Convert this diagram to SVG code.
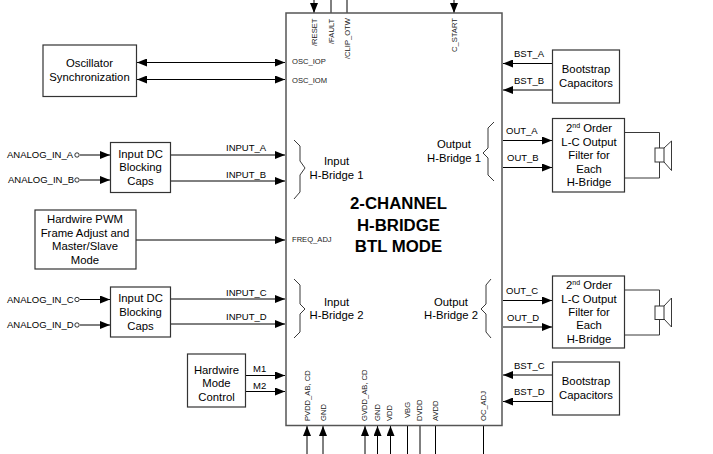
<svg xmlns="http://www.w3.org/2000/svg" width="713" height="454" viewBox="0 0 713 454">
<defs>
<marker id="ah" markerUnits="userSpaceOnUse" markerWidth="10" markerHeight="8" refX="10" refY="4" orient="auto-start-reverse"><path d="M0,0L10,4L0,8Z" fill="#000"/></marker>
</defs>
<style>
text{font-family:"Liberation Sans",Arial,sans-serif;fill:#000}
.box{fill:#fff;stroke:#333;stroke-width:1.2}
.n{font-size:11.300px;text-anchor:middle}
.s{font-size:9.500px}
.p{font-size:7.600px;fill:#222}
.v{font-size:7.600px;fill:#222}
.w{stroke:#000;stroke-width:1;fill:none}
.a{stroke:#000;stroke-width:1;fill:none;marker-end:url(#ah)}
.d{stroke:#000;stroke-width:1;fill:none;marker-start:url(#ah);marker-end:url(#ah)}
.b{stroke:#222;stroke-width:.9;fill:none}
</style>
<g id="connectors">
<path class="d" d="M137 62.500H285"/><path class="d" d="M137 79.500H285"/>
<path class="a" d="M80 155H110"/><path class="a" d="M80 180H110"/>
<path class="a" d="M171 155H285"/><path class="a" d="M171 181H285"/>
<path class="a" d="M136 240H285"/>
<path class="a" d="M80 299.500H110"/><path class="a" d="M80 325H110"/>
<path class="a" d="M171 299H285"/><path class="a" d="M171 324H285"/>
<path class="a" d="M246 375.500H285"/><path class="a" d="M246 391.500H285"/>
<path class="a" d="M314 0V13"/><path class="w" d="M331 0V13"/><path class="w" d="M347 0V13"/><path class="a" d="M454 0V13"/>
<path class="a" d="M307 454V426"/><path class="a" d="M323 454V426"/><path class="a" d="M365 454V426"/><path class="a" d="M377.500 454V426"/><path class="a" d="M390.500 454V426"/>
<path class="w" d="M407.500 454V426"/><path class="w" d="M420 454V426"/><path class="w" d="M435.500 454V426"/><path class="w" d="M483.500 454V426"/>
<path class="a" d="M552 63.500H503"/><path class="a" d="M552 90H503"/>
<path class="a" d="M503 140.500H552"/><path class="a" d="M503 167.500H552"/>
<path class="a" d="M503 300.500H552"/><path class="a" d="M503 327H552"/>
<path class="a" d="M552 375H503"/><path class="a" d="M552 401.500H503"/>
</g>
<g id="main">
<rect x="286" y="13" width="216" height="412.500" fill="#fff" stroke="#555" stroke-width="1.500"/>
<text x="398.500" y="209" text-anchor="middle" font-size="16.800" font-weight="bold">2-CHANNEL</text>
<text x="398.500" y="231" text-anchor="middle" font-size="16.800" font-weight="bold">H-BRIDGE</text>
<text x="398.500" y="252" text-anchor="middle" font-size="16.800" font-weight="bold">BTL MODE</text>
<text class="p" x="292" y="64">OSC_IOP</text><text class="p" x="292" y="83">OSC_IOM</text>
<text class="p" x="292" y="242">FREQ_ADJ</text>
<text class="n" x="336.500" y="165">Input</text><text class="n" x="336.500" y="179">H-Bridge 1</text>
<text class="n" x="336.500" y="306">Input</text><text class="n" x="336.500" y="319">H-Bridge 2</text>
<text class="n" x="454" y="148">Output</text><text class="n" x="454" y="162">H-Bridge 1</text>
<text class="n" x="451" y="306">Output</text><text class="n" x="451" y="319">H-Bridge 2</text>
<path class="b" d="M294 140L300 146V161L305 168L300 175V192L294 199"/>
<path class="b" d="M294 279L300 285V304L305 309L300 314V332L294 338"/>
<path class="b" d="M494 122L488 128V148L483 153L488 158V175L494 181"/>
<path class="b" d="M491 279L486 285V304L481 309L486 314V332L491 338"/>
<text class="v" transform="translate(317,46) rotate(-90)">/RESET</text>
<text class="v" transform="translate(334,44) rotate(-90)">/FAULT</text>
<text class="v" transform="translate(350,59) rotate(-90)">/CLIP_OTW</text>
<text class="v" transform="translate(457,52) rotate(-90)">C_START</text>
<text class="v" transform="translate(309.500,421) rotate(-90)">PVDD_AB, CD</text>
<text class="v" transform="translate(326,421) rotate(-90)">GND</text>
<text class="v" transform="translate(367,421) rotate(-90)">GVDD_AB, CD</text>
<text class="v" transform="translate(380,421) rotate(-90)">GND</text>
<text class="v" transform="translate(391.500,421) rotate(-90)">VDD</text>
<text class="v" transform="translate(409.500,418) rotate(-90)">VBG</text>
<text class="v" transform="translate(421.500,421) rotate(-90)">DVDD</text>
<text class="v" transform="translate(437.500,421) rotate(-90)">AVDD</text>
<text class="v" transform="translate(486,421) rotate(-90)">OC_ADJ</text>
</g>
<g id="osc"><rect class="box" x="43" y="45" width="93.500" height="51.500"/><text class="n" x="89.500" y="67">Oscillator</text><text class="n" x="89.500" y="81">Synchronization</text></g>
<g id="in-a"><text class="s" x="7" y="158">ANALOG_IN_A</text><circle cx="77" cy="155" r="2.200" fill="#fff" stroke="#000" stroke-width=".8"/></g>
<g id="in-b"><text class="s" x="8" y="183">ANALOG_IN_B</text><circle cx="77" cy="180" r="2.200" fill="#fff" stroke="#000" stroke-width=".8"/></g>
<g id="in-c"><text class="s" x="7" y="302.500">ANALOG_IN_C</text><circle cx="77" cy="299.500" r="2.200" fill="#fff" stroke="#000" stroke-width=".8"/></g>
<g id="in-d"><text class="s" x="7" y="328">ANALOG_IN_D</text><circle cx="77" cy="325" r="2.200" fill="#fff" stroke="#000" stroke-width=".8"/></g>
<g id="dc1"><rect class="box" x="110.500" y="142.500" width="60" height="50"/><text class="n" x="140.500" y="158">Input DC</text><text class="n" x="140.500" y="171">Blocking</text><text class="n" x="140.500" y="185">Caps</text></g>
<g id="dc2"><rect class="box" x="110.500" y="287" width="60" height="50"/><text class="n" x="140.500" y="302">Input DC</text><text class="n" x="140.500" y="316">Blocking</text><text class="n" x="140.500" y="330">Caps</text></g>
<g id="pwm"><rect class="box" x="35" y="210" width="101" height="59"/><text class="n" x="85" y="223">Hardwire PWM</text><text class="n" x="85" y="237">Frame Adjust and</text><text class="n" x="85" y="250">Master/Slave</text><text class="n" x="85" y="264">Mode</text></g>
<g id="mode"><rect class="box" x="187.500" y="354" width="58" height="53"/><text class="n" x="216.500" y="374">Hardwire</text><text class="n" x="216.500" y="387">Mode</text><text class="n" x="216.500" y="401">Control</text></g>
<g id="boot1"><rect class="box" x="552.500" y="50" width="67" height="53"/><text class="n" x="586" y="73">Bootstrap</text><text class="n" x="586" y="87">Capacitors</text></g>
<g id="boot2"><rect class="box" x="552.500" y="362" width="67" height="53"/><text class="n" x="586" y="385">Bootstrap</text><text class="n" x="586" y="399">Capacitors</text></g>
<g id="filter1"><rect class="box" x="552.500" y="118.500" width="72" height="73.500"/><text class="n" x="589" y="132">2<tspan font-size="7" dy="-4">nd</tspan><tspan dy="4"> Order</tspan></text><text class="n" x="589" y="145.500">L-C Output</text><text class="n" x="589" y="159">Filter for</text><text class="n" x="589" y="173">Each</text><text class="n" x="589" y="186">H-Bridge</text></g>
<g id="filter2"><rect class="box" x="552.500" y="276" width="72" height="72"/><text class="n" x="589" y="289">2<tspan font-size="7" dy="-4">nd</tspan><tspan dy="4"> Order</tspan></text><text class="n" x="589" y="302.500">L-C Output</text><text class="n" x="589" y="316">Filter for</text><text class="n" x="589" y="329">Each</text><text class="n" x="589" y="343">H-Bridge</text></g>
<g id="spk1"><path class="b" d="M625 132.500H659.500V148M625 178H659.500V162"/><rect x="655" y="148" width="9" height="14" fill="#fff" stroke="#333"/><path class="b" d="M664 148L671.500 141V170.500L664 162"/></g>
<g id="spk2"><path class="b" d="M625 290H659.500V306M625 335H659.500V319"/><rect x="655" y="306" width="9" height="13.500" fill="#fff" stroke="#333"/><path class="b" d="M664 306L671.500 298V327L664 319"/></g>
<g id="labels">
<text class="s" x="226" y="151">INPUT_A</text><text class="s" x="226" y="178">INPUT_B</text>
<text class="s" x="226" y="296">INPUT_C</text><text class="s" x="226" y="320">INPUT_D</text>
<text class="s" x="253" y="372">M1</text><text class="s" x="253" y="389">M2</text>
<text class="s" x="514" y="57">BST_A</text><text class="s" x="514" y="84">BST_B</text>
<text class="s" x="506" y="134">OUT_A</text><text class="s" x="507" y="161">OUT_B</text>
<text class="s" x="506" y="294">OUT_C</text><text class="s" x="507" y="321">OUT_D</text>
<text class="s" x="514" y="369">BST_C</text><text class="s" x="514" y="395">BST_D</text>
</g>
</svg>
